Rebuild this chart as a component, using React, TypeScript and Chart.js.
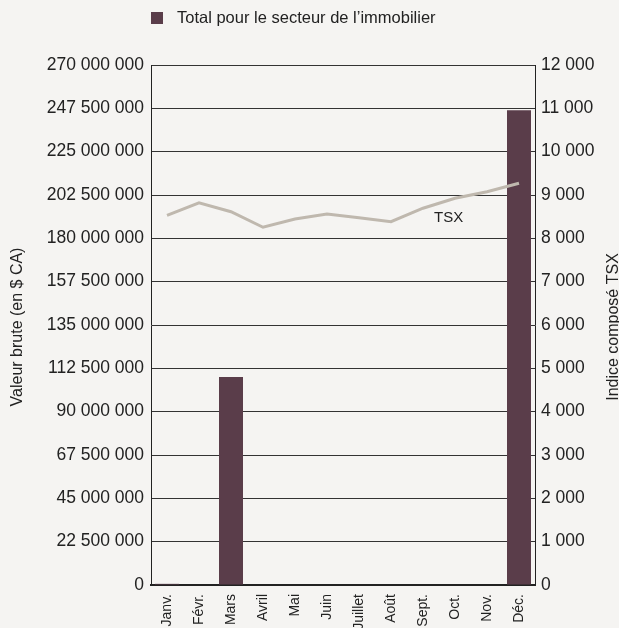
import React, { useEffect, useRef } from "react";
import { Chart, registerables } from "chart.js";

Chart.register(...registerables);

const months = ["Janv.", "Févr.", "Mars", "Avril", "Mai", "Juin", "Juillet", "Août", "Sept.", "Oct.", "Nov.", "Déc."];
const realEstateValues = [600000, 0, 108000000, 0, 0, 0, 0, 0, 0, 0, 0, 246500000];
const tsxValues = [8530, 8820, 8615, 8255, 8445, 8560, 8475, 8385, 8695, 8925, 9075, 9270];

const barLabel = "Total pour le secteur de l’immobilier";
const lineLabel = "TSX";
const leftTitle = "Valeur brute (en $ CA)";
const rightTitle = "Indice composé TSX";

const FONT = "'Liberation Sans', Arial, Helvetica, sans-serif";
const TEXT = "#222222";
const BAR = "#5a3d4a";
const LINE = "#bfb8ae";
const BG = "#f5f4f2";

const fmt = (v: number) => String(Math.round(v)).replace(/\B(?=(\d{3})+(?!\d))/g, " ");

const extrasPlugin = {
  id: "extras",
  afterDatasetsDraw(chart: any) {
    const ctx = chart.ctx;
    const area = chart.chartArea;
    const x = chart.scales.x;
    const y2 = chart.scales.y2;
    ctx.save();
    // legend
    ctx.fillStyle = BAR;
    ctx.fillRect(area.left, 12, 12, 12);
    ctx.fillStyle = TEXT;
    ctx.font = `16.5px ${FONT}`;
    ctx.textAlign = "left";
    ctx.textBaseline = "middle";
    ctx.fillText(chart.data.datasets[0].label, area.left + 26, 18.5);
    // TSX label near the line
    ctx.font = `15px ${FONT}`;
    ctx.fillText(lineLabel, x.getPixelForValue(8) + 11, y2.getPixelForValue(tsxValues[8]) + 10);
    // axis titles
    const midY = (area.top + area.bottom) / 2 + 2;
    ctx.font = `16px ${FONT}`;
    ctx.textAlign = "center";
    ctx.save();
    ctx.translate(17.5, midY);
    ctx.rotate(-Math.PI / 2);
    ctx.fillText(leftTitle, 0, 0);
    ctx.restore();
    ctx.save();
    ctx.translate(613.5, midY);
    ctx.rotate(-Math.PI / 2);
    ctx.fillText(rightTitle, 0, 0);
    ctx.restore();
    ctx.restore();
  },
};

export default function App() {
  const ref = useRef<HTMLCanvasElement | null>(null);

  useEffect(() => {
    if (!ref.current) return;
    const chart = new Chart(ref.current, {
      type: "bar",
      data: {
        labels: months,
        datasets: [
          {
            type: "bar",
            label: barLabel,
            data: realEstateValues,
            backgroundColor: BAR,
            yAxisID: "y",
            barPercentage: 0.75,
            categoryPercentage: 1,
            order: 2,
          },
          {
            type: "line",
            label: lineLabel,
            data: tsxValues,
            borderColor: LINE,
            borderWidth: 3,
            pointRadius: 0,
            tension: 0,
            yAxisID: "y2",
            order: 1,
          } as any,
        ],
      },
      options: {
        responsive: false,
        animation: false,
        devicePixelRatio: 1,
        layout: { padding: { top: 65, left: 0, right: 0, bottom: 0 } },
        plugins: { legend: { display: false }, tooltip: { enabled: false } },
        scales: {
          x: {
            offset: true,
            grid: { display: false, drawTicks: false },
            border: { display: true, color: "#222", width: 2 },
            ticks: {
              maxRotation: 90,
              minRotation: 90,
              padding: 9,
              color: TEXT,
              font: { size: 14, family: FONT },
              autoSkip: false,
            },
            afterFit: (s: any) => {
              s.height = 43;
            },
          },
          y: {
            position: "left",
            min: 0,
            max: 270000000,
            ticks: {
              stepSize: 22500000,
              padding: 7,
              color: TEXT,
              font: { size: 17.5, family: FONT },
              callback: (v: any) => fmt(Number(v)),
            },
            grid: { color: "#333", lineWidth: 1, drawTicks: false },
            border: { display: true, color: "#222", width: 1 },
            afterFit: (s: any) => {
              s.width = 151;
            },
          },
          y2: {
            position: "right",
            min: 0,
            max: 12000,
            ticks: {
              stepSize: 1000,
              padding: 6,
              color: TEXT,
              font: { size: 17.5, family: FONT },
              callback: (v: any) => fmt(Number(v)),
            },
            grid: { drawOnChartArea: false, drawTicks: false },
            border: { display: true, color: "#222", width: 1 },
            afterFit: (s: any) => {
              s.width = 84;
            },
          },
        },
      } as any,
      plugins: [extrasPlugin],
    });
    return () => chart.destroy();
  }, []);

  return (
    <div style={{ position: "absolute", left: 0, top: 0, width: 619, height: 628, background: BG, overflow: "hidden" }}>
      <canvas ref={ref} width={619} height={628} style={{ display: "block" }} />
    </div>
  );
}
